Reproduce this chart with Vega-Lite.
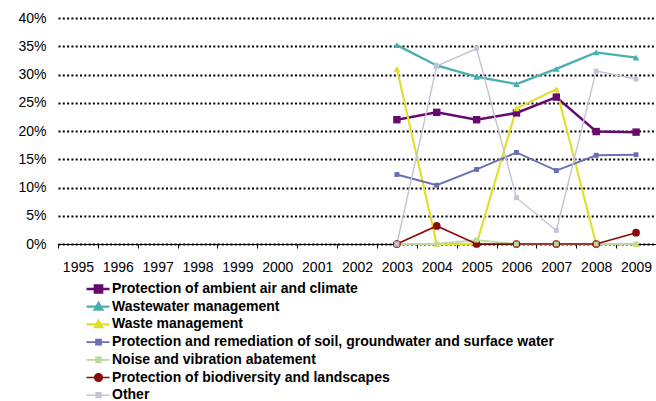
{
  "$schema": "https://vega.github.io/schema/vega-lite/v6.json",
  "width": 598,
  "height": 226,
  "autosize": {"type": "none"},
  "padding": {"left": 58, "top": 18, "right": 0, "bottom": 157},
  "background": "white",
  "config": {
    "font": "Liberation Sans",
    "view": {"stroke": null},
    "axis": {"labelFont": "Liberation Sans", "labelFontSize": 14, "labelColor": "black"}
  },
  "data": {
    "values": [
      {"series": "Protection of ambient air and climate", "year": 2003, "value": 0.22},
      {"series": "Protection of ambient air and climate", "year": 2004, "value": 0.233},
      {"series": "Protection of ambient air and climate", "year": 2005, "value": 0.22},
      {"series": "Protection of ambient air and climate", "year": 2006, "value": 0.232},
      {"series": "Protection of ambient air and climate", "year": 2007, "value": 0.26},
      {"series": "Protection of ambient air and climate", "year": 2008, "value": 0.199},
      {"series": "Protection of ambient air and climate", "year": 2009, "value": 0.198},
      {"series": "Wastewater management", "year": 2003, "value": 0.352},
      {"series": "Wastewater management", "year": 2004, "value": 0.316},
      {"series": "Wastewater management", "year": 2005, "value": 0.296},
      {"series": "Wastewater management", "year": 2006, "value": 0.283},
      {"series": "Wastewater management", "year": 2007, "value": 0.31},
      {"series": "Wastewater management", "year": 2008, "value": 0.339},
      {"series": "Wastewater management", "year": 2009, "value": 0.33},
      {"series": "Waste management", "year": 2003, "value": 0.31},
      {"series": "Waste management", "year": 2004, "value": 0},
      {"series": "Waste management", "year": 2005, "value": 0},
      {"series": "Waste management", "year": 2006, "value": 0.24},
      {"series": "Waste management", "year": 2007, "value": 0.274},
      {"series": "Waste management", "year": 2008, "value": 0},
      {"series": "Waste management", "year": 2009, "value": 0},
      {"series": "Protection and remediation of soil, groundwater and surface water", "year": 2003, "value": 0.123},
      {"series": "Protection and remediation of soil, groundwater and surface water", "year": 2004, "value": 0.104},
      {"series": "Protection and remediation of soil, groundwater and surface water", "year": 2005, "value": 0.132},
      {"series": "Protection and remediation of soil, groundwater and surface water", "year": 2006, "value": 0.162},
      {"series": "Protection and remediation of soil, groundwater and surface water", "year": 2007, "value": 0.13},
      {"series": "Protection and remediation of soil, groundwater and surface water", "year": 2008, "value": 0.157},
      {"series": "Protection and remediation of soil, groundwater and surface water", "year": 2009, "value": 0.158},
      {"series": "Noise and vibration abatement", "year": 2003, "value": 0},
      {"series": "Noise and vibration abatement", "year": 2004, "value": 0},
      {"series": "Noise and vibration abatement", "year": 2005, "value": 0.007},
      {"series": "Noise and vibration abatement", "year": 2006, "value": 0},
      {"series": "Noise and vibration abatement", "year": 2007, "value": 0},
      {"series": "Noise and vibration abatement", "year": 2008, "value": 0},
      {"series": "Noise and vibration abatement", "year": 2009, "value": 0},
      {"series": "Protection of biodiversity and landscapes", "year": 2003, "value": 0},
      {"series": "Protection of biodiversity and landscapes", "year": 2004, "value": 0.032},
      {"series": "Protection of biodiversity and landscapes", "year": 2005, "value": 0},
      {"series": "Protection of biodiversity and landscapes", "year": 2006, "value": 0},
      {"series": "Protection of biodiversity and landscapes", "year": 2007, "value": 0},
      {"series": "Protection of biodiversity and landscapes", "year": 2008, "value": 0},
      {"series": "Protection of biodiversity and landscapes", "year": 2009, "value": 0.02},
      {"series": "Other", "year": 2003, "value": 0},
      {"series": "Other", "year": 2004, "value": 0.315},
      {"series": "Other", "year": 2005, "value": 0.346},
      {"series": "Other", "year": 2006, "value": 0.082},
      {"series": "Other", "year": 2007, "value": 0.024},
      {"series": "Other", "year": 2008, "value": 0.306},
      {"series": "Other", "year": 2009, "value": 0.292}
    ]
  },
  "encoding": {
    "x": {
      "field": "year",
      "type": "ordinal",
      "bandPosition": 0.5,
      "scale": {"type": "band", "domain": [1995, 1996, 1997, 1998, 1999, 2000, 2001, 2002, 2003, 2004, 2005, 2006, 2007, 2008, 2009], "paddingInner": 0, "paddingOuter": 0},
      "axis": {"title": null, "labelAngle": 0, "tickBand": "extent", "tickSize": 4, "tickColor": "black", "domainColor": "black", "domainWidth": 1, "labelPadding": 12, "labelBaseline": "top", "grid": false}
    },
    "y": {
      "field": "value",
      "type": "quantitative",
      "scale": {"domain": [0, 0.4], "nice": false},
      "axis": {"title": null, "format": ".0%", "values": [0, 0.05, 0.1, 0.15, 0.2, 0.25, 0.3, 0.35, 0.4], "ticks": false, "domain": false, "labelPadding": 12, "grid": true, "gridColor": "black", "gridWidth": 1.8, "gridDash": [2, 2.3], "labelBaseline": "middle"}
    },
    "color": {
      "field": "series",
      "type": "nominal",
      "scale": {
        "domain": ["Protection of ambient air and climate", "Wastewater management", "Waste management", "Protection and remediation of soil, groundwater and surface water", "Noise and vibration abatement", "Protection of biodiversity and landscapes", "Other"],
        "range": ["#660a6e", "#4bafb0", "#e0e02a", "#6a6fb5", "#bcd89b", "#8b0a0a", "#c4c4d4"]
      },
      "legend": {
        "title": null,
        "orient": "none",
        "legendX": 33.5,
        "legendY": 264,
        "direction": "vertical",
        "gridAlign": "all",
        "labelFont": "Liberation Sans",
        "labelFontWeight": "bold",
        "labelFontSize": 14,
        "labelColor": "black",
        "labelLimit": 600,
        "labelOffset": 6.5,
        "rowPadding": -0.3,
        "symbolSize": 64,
        "padding": 0,
        "encode": {
          "symbols": {
            "update": {
              "shape": {"signal": "datum.value === 'Protection of ambient air and climate' ? 'M-3,0H2.75M-0.9,-0.9H0.9V0.9H-0.9Z' : (datum.value === 'Wastewater management' || datum.value === 'Waste management') ? 'M-3,0H2.75M0,-0.95L0.95,0.7H-0.95Z' : datum.value === 'Protection of biodiversity and landscapes' ? 'M-3,0H2.75M-0.95,0A0.95,0.95 0 1,0 0.95,0A0.95,0.95 0 1,0 -0.95,0Z' : 'M-3,0H2.75M-0.6,-0.6H0.6V0.6H-0.6Z'"},
              "fill": {"scale": "color", "field": "value"},
              "stroke": {"scale": "color", "field": "value"},
              "strokeWidth": {"signal": "datum.value === 'Protection of ambient air and climate' ? 2.5 : 1.4"},
              "opacity": {"value": 1}
            }
          }
        }
      }
    }
  },
  "layer": [
    {
      "mark": {"type": "line"},
      "encoding": {
        "strokeWidth": {
          "field": "series",
          "type": "nominal",
          "scale": {
            "domain": ["Protection of ambient air and climate", "Wastewater management", "Waste management", "Protection and remediation of soil, groundwater and surface water", "Noise and vibration abatement", "Protection of biodiversity and landscapes", "Other"],
            "range": [2.5, 1.4, 1.4, 1.4, 1.4, 1.4, 1.4]
          },
          "legend": null
        }
      }
    },
    {
      "transform": [{"filter": {"field": "series", "equal": "Protection of ambient air and climate"}}],
      "mark": {"type": "point", "filled": true, "opacity": 1, "shape": "square", "size": 55}
    },
    {
      "transform": [{"filter": {"field": "series", "oneOf": ["Wastewater management", "Waste management"]}}],
      "mark": {"type": "point", "filled": true, "opacity": 1, "shape": "triangle-up", "size": 45}
    },
    {
      "transform": [{"filter": {"field": "series", "equal": "Protection of biodiversity and landscapes"}}],
      "mark": {"type": "point", "filled": true, "opacity": 1, "shape": "circle", "size": 60}
    },
    {
      "transform": [{"filter": {"field": "series", "oneOf": ["Protection and remediation of soil, groundwater and surface water", "Noise and vibration abatement", "Other"]}}],
      "mark": {"type": "point", "filled": true, "opacity": 1, "shape": "square", "size": 24}
    }
  ]
}
